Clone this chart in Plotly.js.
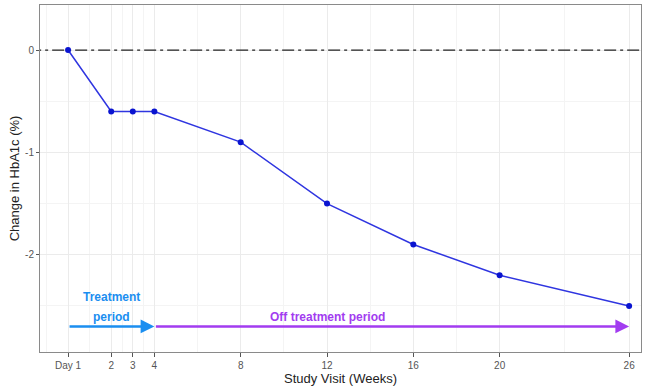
<!DOCTYPE html>
<html>
<head>
<meta charset="utf-8">
<script src="https://cdn.plot.ly/plotly-3.0.1.min.js"></script>
<style>html,body{margin:0;padding:0;background:#fff}#chart{width:655px;height:389px}</style>
</head>
<body>
<div id="chart"></div>
<script>
// Data
const weeks = [0, 2, 3, 4, 8, 12, 16, 20, 26];
const hba1cChange = [0, -0.6, -0.6, -0.6, -0.9, -1.5, -1.9, -2.2, -2.5];
const xTickVals = [0, 2, 3, 4, 8, 12, 16, 20, 26];
const xTickText = ["Day 1", "2", "3", "4", "8", "12", "16", "20", "26"];
const xMinorVals = [-1, 1, 2.5, 3.5, 6, 10, 14, 18, 23];
const yTickVals = [0, -1, -2];
const yTickText = ["0", "-1", "-2"];
const yMinorVals = [0.5, -0.5, -1.5, -2.5];
const periodNames = ["Treatment period", "Off treatment period"];
const periodStart = [0, 4];
const periodEnd = [4, 26];
const periodArrowY = -2.7;
const periodColors = ["#1b8ef0", "#a23cf0"];

const traces = [
  {
    x: [-5, 30], y: [0, 0], mode: "lines", hoverinfo: "skip",
    line: {color: "#222222", width: 1.3, dash: "12px,4px,3px,4px"}, showlegend: false
  },
  {
    x: weeks, y: hba1cChange, mode: "lines+markers",
    line: {color: "#2f35e0", width: 1.5},
    marker: {color: "#0a14d0", size: 6},
    showlegend: false
  }
];

const annotations = [];
for (let i = 0; i < periodNames.length; i++) {
  annotations.push({
    x: periodEnd[i], y: periodArrowY, ax: periodStart[i], ay: periodArrowY,
    xref: "x", yref: "y", axref: "x", ayref: "y",
    showarrow: true, arrowhead: 2, arrowsize: 1.1, arrowwidth: 2.5,
    arrowcolor: periodColors[i], text: "", standoff: 0, startstandoff: 0
  });
}
// labels
annotations.push({x: 2, y: -2.41, xref: "x", yref: "y", text: "<b>Treatment</b>", showarrow: false,
  font: {family: "Liberation Sans, Arial, sans-serif", size: 12, color: periodColors[0]}});
annotations.push({x: 2, y: -2.605, xref: "x", yref: "y", text: "<b>period</b>", showarrow: false,
  font: {family: "Liberation Sans, Arial, sans-serif", size: 12, color: periodColors[0]}});
annotations.push({x: 12, y: -2.605, xref: "x", yref: "y", text: "<b>" + periodNames[1] + "</b>", showarrow: false,
  font: {family: "Liberation Sans, Arial, sans-serif", size: 12, color: periodColors[1]}});

const layout = {
  width: 655, height: 389,
  margin: {l: 40, r: 14, t: 5, b: 37},
  paper_bgcolor: "#ffffff", plot_bgcolor: "#ffffff",
  font: {family: "Liberation Sans, Arial, sans-serif", size: 10, color: "#555555"},
  xaxis: {
    range: [-1.3, 26.55], tickmode: "array", tickvals: xTickVals, ticktext: xTickText,
    showgrid: true, gridcolor: "#ebebeb", gridwidth: 1,
    minor: {tickmode: "array", tickvals: xMinorVals, showgrid: true, gridcolor: "#f4f4f4", gridwidth: 1, ticks: ""},
    zeroline: false, showline: true, linecolor: "#8a8a8a", linewidth: 1, mirror: true,
    ticks: "outside", ticklen: 4, tickcolor: "#555555", tickwidth: 1,
    tickfont: {size: 10, color: "#555555"},
    title: {text: "Study Visit (Weeks)", font: {size: 13, color: "#222222"}, standoff: 2}
  },
  yaxis: {
    range: [-2.95, 0.44], tickmode: "array", tickvals: yTickVals, ticktext: yTickText,
    showgrid: true, gridcolor: "#ebebeb", gridwidth: 1,
    minor: {tickmode: "array", tickvals: yMinorVals, showgrid: true, gridcolor: "#f4f4f4", gridwidth: 1, ticks: ""},
    zeroline: false, showline: true, linecolor: "#8a8a8a", linewidth: 1, mirror: true,
    ticks: "outside", ticklen: 3, tickcolor: "#555555", tickwidth: 1,
    tickfont: {size: 10, color: "#555555"},
    title: {text: "Change in HbA1c (%)", font: {size: 13, color: "#222222"}, standoff: 2}
  },
  annotations: annotations
};

Plotly.newPlot("chart", traces, layout, {displayModeBar: false, staticPlot: true});
</script>
</body>
</html>
